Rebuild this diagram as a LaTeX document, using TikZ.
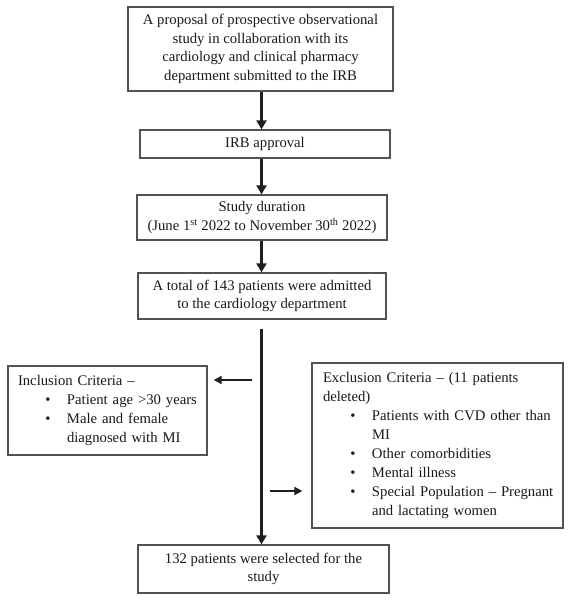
\documentclass[tikz,border=0pt]{standalone}
\usepackage{fontspec}
\setmainfont{Liberation Serif}
\usetikzlibrary{arrows.meta,calc}
\newcommand\cstart{\leftskip=0pt\rightskip=-12pt plus 1fil\relax\parfillskip=0pt plus 1fil\relax\parindent=0pt\noindent}
\newcommand\bul{\par\leftskip=49pt\noindent\llap{\textbullet\hspace{16.5pt}}}
\newcommand\nl{\hfil\break}
\begin{document}
\begin{tikzpicture}[x=1pt,y=-1pt,
  box/.style={draw=black!68,line width=1.3pt,inner sep=0pt,align=center,
    font=\fontsize{14.7}{18.5}\selectfont,text=black!90},
  crit/.style={draw=black!68,line width=1.3pt,inner ysep=0pt,
    font=\fontsize{14.7}{19}\selectfont,text=black!90},
  arr/.style={line width=2.8pt,draw=black!88,-{Triangle[length=9pt,width=10pt]}},
  sarr/.style={line width=2.4pt,draw=black!88,-{Triangle[length=8pt,width=8pt]}}]
\useasboundingbox (0,0) rectangle (572,604);
\coordinate (spine) at (261.5,0);
\node[box,minimum width=265pt,minimum height=84pt] (prop) at (260.5,49)
  {A proposal of prospective observational\\ study in collaboration with its\\
   cardiology and clinical pharmacy\\ department submitted to the IRB};
\node[box,minimum width=250pt,minimum height=28pt] (irb) at (265,144) {IRB approval};
\node[box,minimum width=250pt,minimum height=45pt] (dur) at (262,217.5)
  {Study duration\\ (June 1\textsuperscript{st} 2022 to November 30\textsuperscript{th} 2022)};
\node[box,minimum width=248pt,minimum height=46pt] (tot) at (262,296)
  {A total of 143 patients were admitted\\ to the cardiology department};
\node[box,minimum width=251pt,minimum height=48pt] (sel) at (263.5,569)
  {132 patients were selected for the\\ study};
\node[crit,inner xsep=10pt,text width=179pt,minimum height=89pt] (incl) at (107.5,410.5)
  {\cstart Inclusion Criteria --
   \bul Patient age >30 years
   \bul Male and female\nl diagnosed with MI\par};
\node[crit,inner xsep=11pt,text width=229pt,minimum height=165pt] (excl) at (437.5,445.5)
  {\cstart Exclusion Criteria -- (11 patients\nl deleted)
   \bul Patients with CVD other than\nl MI
   \bul Other comorbidities
   \bul Mental illness
   \bul Special Population -- Pregnant\nl and lactating women\par};
\draw[arr] (prop.south -| spine) -- (irb.north -| spine);
\draw[arr] (irb.south -| spine) -- (dur.north -| spine);
\draw[arr] (dur.south -| spine) -- (tot.north -| spine);
\draw[arr,shorten <=9pt] (tot.south -| spine) -- (sel.north -| spine);
\coordinate (lstart) at (252,380);
\coordinate (rstart) at (270,491);
\draw[sarr,shorten >=6pt] (lstart) -- (lstart -| incl.east);
\draw[sarr,shorten >=9pt] (rstart) -- (rstart -| excl.west);
\end{tikzpicture}
\end{document}
